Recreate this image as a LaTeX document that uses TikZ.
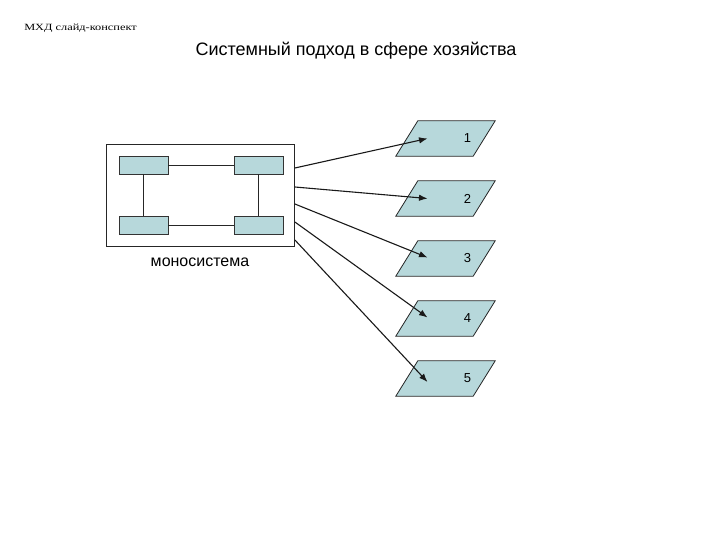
\documentclass[tikz,border=0pt]{standalone}
\usepackage{fontspec}
\setmainfont{Liberation Sans}
\newfontfamily\serifrm{Liberation Serif}
\usetikzlibrary{arrows.meta}
\definecolor{boxfill}{RGB}{183,216,219}
\tikzset{
  unit/.style={draw=black!80, fill=boxfill, line width=0.8pt, minimum width=49pt, minimum height=18pt, inner sep=0pt},
  parabase/.style={minimum width=77pt, minimum height=35pt, inner sep=0pt},
  parashape/.style={draw=black!85, fill=boxfill, line width=0.8pt, line join=miter},
  conn/.style={line width=0.8pt, black!85},
  arr/.style={line width=1.1pt, black!90, -{Latex[length=8.5pt,width=6.5pt]}},
  num/.style={font=\fontsize{13}{15}\selectfont, inner sep=0pt}
}
\begin{document}
\begin{tikzpicture}[x=1pt,y=-1pt]
\useasboundingbox (0,0) rectangle (720,540);
\node[anchor=west, font=\serifrm\fontsize{9.5}{11}\selectfont, inner sep=0pt, xscale=1.3] (hdr) at (24,28) {МХД слайд-конспект};
\node[font=\fontsize{18}{21}\selectfont, inner sep=0pt] (title) at (356,51) {Системный подход в сфере хозяйства};
\node[draw=black!85, line width=0.8pt, minimum width=188pt, minimum height=102pt, inner sep=0pt] (box) at (200.5,195) {};
\node[unit] (a) at (143.5,165) {};
\node[unit] (b) at (258.5,165) {};
\node[unit] (c) at (143.5,225) {};
\node[unit] (d) at (258.5,225) {};
\draw[conn] (a) -- (b);
\draw[conn] (c) -- (d);
\draw[conn] (a) -- (c);
\draw[conn] (b) -- (d);
\node[font=\fontsize{16}{18}\selectfont, inner sep=0pt] (mono) at (200,262) {моносистема};
\foreach \i/\y in {1/138.5,2/198.5,3/258.5,4/318.5,5/378.5}{
  \node[parabase] (p\i) at (445.5,\y) {};
  \draw[parashape] ([xshift=11pt]p\i.north west) -- ([xshift=11pt]p\i.north east)
     -- ([xshift=-11pt]p\i.south east) -- ([xshift=-11pt]p\i.south west) -- cycle;
  \node[num] (n\i) at ([xshift=22pt]p\i.center) {\i};
}
\draw[arr] ([yshift=27pt]box.east) -- ([xshift=-18pt]p1.center);
\draw[arr] ([yshift=8pt]box.east) -- ([xshift=-18pt]p2.center);
\draw[arr] ([yshift=-9pt]box.east) -- ([xshift=-18pt,yshift=1pt]p3.center);
\draw[arr] ([yshift=-27pt]box.east) -- ([xshift=-18pt,yshift=1pt]p4.center);
\draw[arr] ([yshift=-45pt]box.east) -- ([xshift=-18pt,yshift=-3.5pt]p5.center);
\end{tikzpicture}
\end{document}
